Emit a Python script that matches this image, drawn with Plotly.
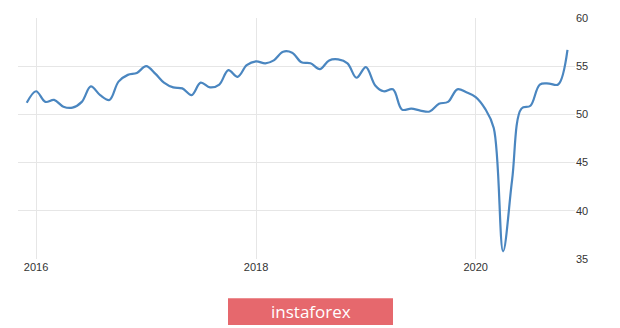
import plotly.graph_objects as go
import pandas as pd

# Monthly PMI readings, Dec 2015 .. Nov 2020
start_month = "2015-12-01"
values = [
    51.2,
    52.4, 51.3, 51.5, 50.8, 50.7, 51.3, 52.9, 52.0, 51.5, 53.4, 54.1, 54.3,
    55.0, 54.2, 53.3, 52.8, 52.7, 52.0, 53.3, 52.8, 53.1, 54.6, 53.9, 55.1,
    55.5, 55.3, 55.6, 56.5, 56.4, 55.4, 55.3, 54.7, 55.6, 55.7, 55.3, 53.8,
    54.9, 53.0, 52.4, 52.6, 50.5, 50.6, 50.4, 50.3, 51.1, 51.3, 52.6, 52.3,
    51.8, 50.6, 48.6, 35.8, 43.2, 50.6, 50.9, 53.1, 53.2, 53.1, 56.7,
]
dates = pd.date_range(start_month, periods=len(values), freq="MS")

x_tick_vals = ["2016-01-01", "2018-01-01", "2020-01-01"]
x_tick_text = ["2016", "2018", "2020"]
y_tick_vals = [35, 40, 45, 50, 55, 60]
logo_text = "instaforex"

fig = go.Figure()
fig.add_trace(go.Scatter(
    x=dates, y=values, mode="lines",
    line=dict(color="#4a86c0", width=2.2, shape="spline", smoothing=1),
    hoverinfo="skip", showlegend=False,
))

W, H = 620, 328
ml, mr, mt, mb = 18, 45, 16, 68.7
pw = W - ml - mr
ph = H - mt - mb

def px_x(p):
    return (p - ml) / pw

def px_y(p):
    return (H - mb - p) / ph

fig.add_shape(type="rect", xref="paper", yref="paper",
              x0=px_x(228), x1=px_x(393), y0=px_y(326), y1=px_y(299),
              fillcolor="#e6686d", line=dict(width=0), layer="above")
fig.add_annotation(xref="paper", yref="paper", x=px_x(310.5), y=px_y(312.5),
                   text=logo_text, showarrow=False,
                   font=dict(family="Open Sans", size=17, color="white"),
                   xanchor="center", yanchor="middle")

fig.update_layout(
    width=W, height=H,
    margin=dict(l=ml, r=mr, t=mt, b=mb),
    paper_bgcolor="white", plot_bgcolor="white",
    font=dict(family="Liberation Sans", size=11, color="#333333"),
    xaxis=dict(
        range=["2015-11-02", "2020-11-26"],
        tickvals=x_tick_vals, ticktext=x_tick_text,
        showgrid=True, gridcolor="#e6e6e6", gridwidth=1,
        zeroline=False, showline=False, ticks="",
        tickfont=dict(size=11, color="#333333"),
        fixedrange=True,
    ),
    yaxis=dict(
        range=[35, 60], side="right",
        tickvals=y_tick_vals,
        showgrid=True, gridcolor="#e6e6e6", gridwidth=1,
        zeroline=False, showline=False, ticks="",
        tickfont=dict(size=11, color="#333333"),
        fixedrange=True,
    ),
)

fig.write_html("out.html")
